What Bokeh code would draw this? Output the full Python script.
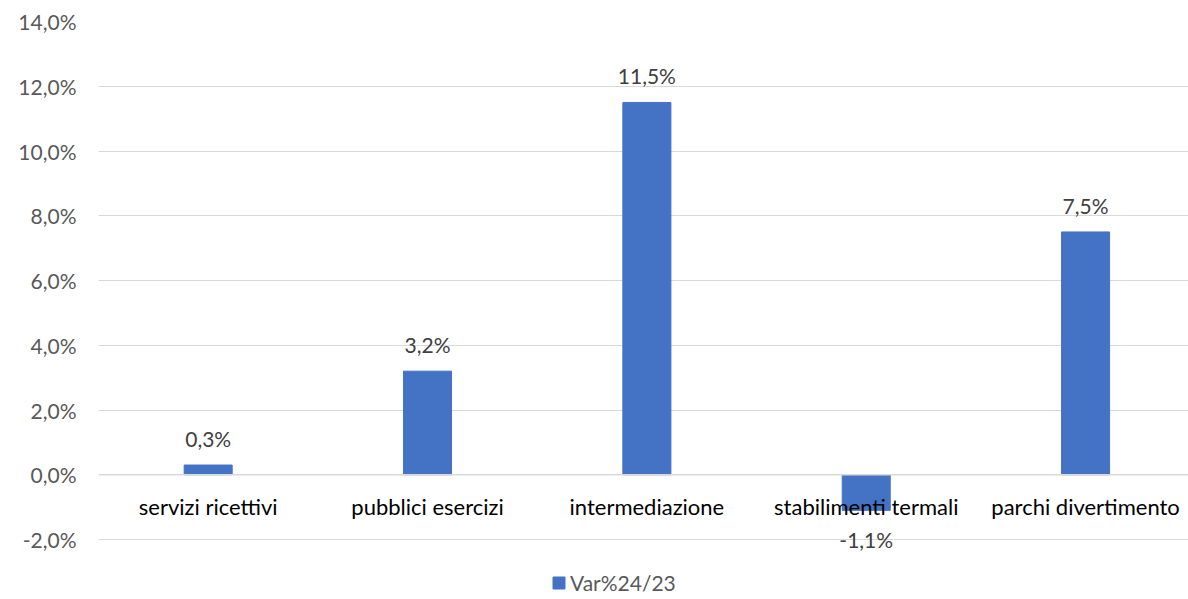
from bokeh.plotting import figure
from bokeh.models import ColumnDataSource, Range1d, FixedTicker, Legend, LegendItem, Span
from bokeh.core.properties import value
from bokeh.embed import file_html
from bokeh.resources import INLINE

categories = ["servizi ricettivi", "pubblici esercizi", "intermediazione", "stabilimenti termali", "parchi divertimento"]
values = [0.3, 3.2, 11.5, -1.1, 7.5]
value_labels = ["0,3%", "3,2%", "11,5%", "-1,1%", "7,5%"]
series_name = "Var%24/23"
y_ticks = [-2, 0, 2, 4, 6, 8, 10, 12, 14]
y_tick_labels = ["-2,0%", "0,0%", "2,0%", "4,0%", "6,0%", "8,0%", "10,0%", "12,0%", "14,0%"]

FONT = "Lato"
BLUE = "#4472C4"

xs = [i + 0.5 for i in range(len(categories))]
src = ColumnDataSource(dict(
    x=xs, top=values, cat=categories, lab=value_labels,
    lbase=["bottom" if v >= 0 else "top" for v in values],
    loff=[-14 if v >= 0 else 17 for v in values],
    zero=[0] * len(values),
))

# frame: 14% at y=21px, -2% at y=539px; extend below for legend
px_per_unit = (539 - 21) / 16.0
y_bottom = -2 - (599 - 539) / px_per_unit

p = figure(width=1188, height=599, output_backend="svg", toolbar_location=None,
           x_range=Range1d(0, (1188 - 98.5) / 219.25), y_range=Range1d(y_bottom, 14),
           min_border_left=98, min_border_right=0, min_border_top=21, min_border_bottom=0)
p.outline_line_color = None
p.background_fill_color = "white"
p.border_fill_color = "white"

r = p.vbar(x="x", top="top", bottom=0, width=0.219, color=BLUE, source=src)

# axes
p.xaxis.visible = False
p.xgrid.visible = False
p.yaxis.ticker = FixedTicker(ticks=y_ticks)
p.yaxis.major_label_overrides = {t: l for t, l in zip(y_ticks, y_tick_labels)}
p.yaxis.axis_line_color = None
p.yaxis.major_tick_line_color = None
p.yaxis.minor_tick_line_color = None
p.yaxis.major_label_standoff = 16
p.yaxis.major_label_text_font = FONT
p.yaxis.major_label_text_font_size = "21px"
p.yaxis.major_label_text_color = "#595959"
p.ygrid.ticker = FixedTicker(ticks=y_ticks)
p.ygrid.grid_line_color = "#d9d9d9"
p.ygrid.grid_line_width = 1.2

zero_line = Span(location=0, dimension="width", line_color="#d9d9d9", line_width=1.6)
p.add_layout(zero_line)

# data labels
p.text(x="x", y="top", text="lab", source=src, text_align="center", text_baseline="lbase",
       y_offset="loff", text_font=value(FONT), text_font_size="21px", text_color="#404040")

# category labels near zero line
p.text(x="x", y="zero", text="cat", source=src, text_align="center", text_baseline="middle",
       y_offset=32, text_font=value(FONT), text_font_size="22px", text_color="#000000")

legend = Legend(items=[LegendItem(label=series_name, renderers=[r])], location=(453, 4),
                orientation="horizontal", border_line_color=None, background_fill_alpha=0,
                label_text_font=FONT, label_text_font_size="21px", label_text_color="#595959",
                glyph_width=15, glyph_height=15, label_standoff=4, padding=4, margin=0)
p.add_layout(legend)

open("out.html", "w").write(file_html(p, INLINE))
